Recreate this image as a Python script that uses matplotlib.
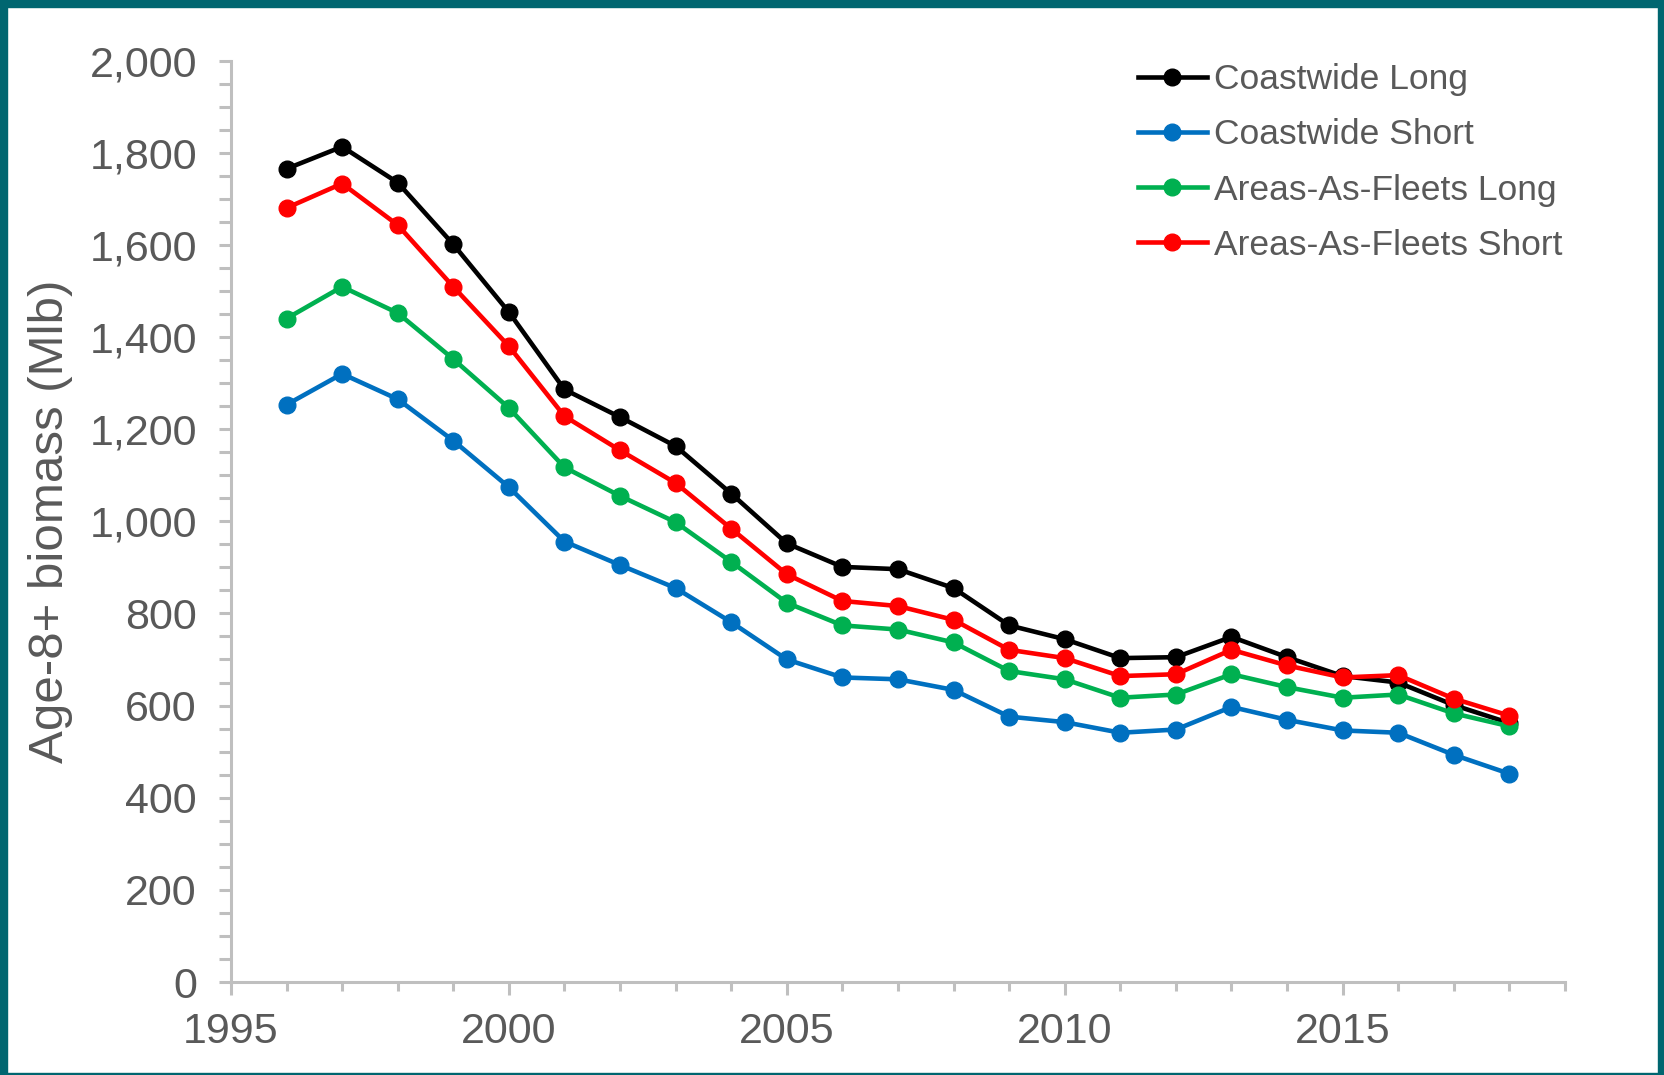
import numpy as np
import matplotlib; matplotlib.use("Agg")
import matplotlib.pyplot as plt
from matplotlib.ticker import MultipleLocator, FuncFormatter
from matplotlib.patches import Rectangle

years = list(range(1996, 2019))
coast_long = [1765, 1813, 1735, 1601, 1454, 1286, 1226, 1163, 1060, 952, 901, 896, 855,
              774, 744, 703, 705, 749, 705, 664, 650, 601, 562]
coast_short = [1253, 1320, 1265, 1175, 1074, 956, 905, 855, 781, 700, 661, 657, 634,
               576, 564, 541, 548, 597, 569, 546, 541, 493, 452]
aaf_long = [1440, 1509, 1452, 1352, 1246, 1117, 1055, 998, 912, 823, 774, 765, 737,
            675, 657, 617, 624, 668, 640, 617, 624, 583, 555]
aaf_short = [1680, 1733, 1643, 1509, 1380, 1228, 1154, 1083, 984, 885, 827, 816, 786,
             721, 703, 664, 668, 721, 687, 661, 666, 615, 578]
series = [("Coastwide Long", coast_long, "#000000"),
          ("Coastwide Short", coast_short, "#0070C0"),
          ("Areas-As-Fleets Long", aaf_long, "#00B050"),
          ("Areas-As-Fleets Short", aaf_short, "#FF0000")]

plt.rcParams['font.family'] = ['Liberation Sans', 'DejaVu Sans']
TXT = '#595959'; AX = '#BFBFBF'; TEAL = '#006670'

fig = plt.figure(figsize=(16.64, 10.75), dpi=100)
ax = fig.add_axes([0.1388, 0.0865, 0.9405 - 0.1388, 0.9437 - 0.0865])
for name, vals, c in series:
    ax.plot(years, vals, color=c, lw=3.3, marker='o', ms=12, label=name)

ax.set_xlim(1995, 2019); ax.set_ylim(0, 2000)
ax.xaxis.set_major_locator(MultipleLocator(5)); ax.xaxis.set_minor_locator(MultipleLocator(1))
ax.yaxis.set_major_locator(MultipleLocator(200)); ax.yaxis.set_minor_locator(MultipleLocator(50))
ax.yaxis.set_major_formatter(FuncFormatter(lambda v, p: f"{int(v):,}"))
for s in ['top', 'right']: ax.spines[s].set_visible(False)
for s in ['left', 'bottom']:
    ax.spines[s].set_color(AX); ax.spines[s].set_linewidth(2.2)
ax.tick_params(axis='both', which='both', color=AX, width=2.2, labelcolor=TXT, labelsize=31)
ax.tick_params(axis='x', which='major', length=9.5, pad=12)
ax.tick_params(axis='x', which='minor', length=6.5)
ax.tick_params(axis='y', which='both', length=8.5, pad=16)
ax.set_ylabel('Age-8+ biomass (Mlb)', color=TXT, fontsize=35.5, labelpad=12)

leg = ax.legend(loc='upper right', bbox_to_anchor=(1.022, 1.032), frameon=False, fontsize=25.5,
                handlelength=1.95, handletextpad=0.2, labelspacing=0.63)
for t in leg.get_texts(): t.set_color(TXT)

# teal frame round the picture
W, H = 1664, 1075
for x0, y0, w, h in [(0, 0, 7 / W, 1), (1 - 6 / W, 0, 6 / W, 1), (0, 1 - 7 / H, 1, 7 / H), (0, 0, 1, 2 / H)]:
    fig.add_artist(Rectangle((x0, y0), w, h, transform=fig.transFigure, color=TEAL, zorder=10))

fig.savefig('out.png', dpi=100)
